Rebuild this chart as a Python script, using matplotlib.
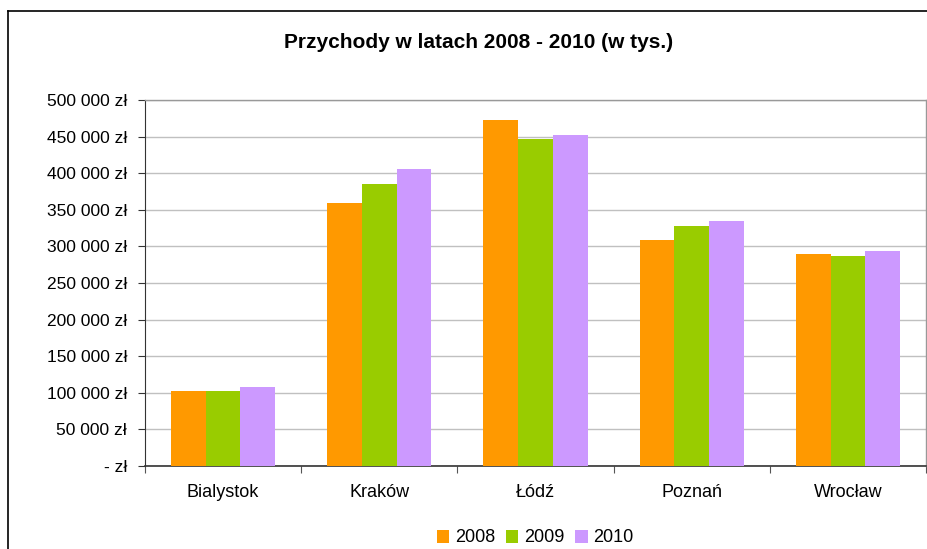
import matplotlib
matplotlib.use("Agg")
import matplotlib.pyplot as plt
from matplotlib.lines import Line2D
from matplotlib.patches import Patch
import numpy as np

plt.rcParams['font.family'] = ['Liberation Sans', 'DejaVu Sans']

categories = ["Bialystok", "Kraków", "Łódź", "Poznań", "Wrocław"]
years = ["2008", "2009", "2010"]
v2008 = [102500, 359300, 472700, 308700, 289600]
v2009 = [102500, 385200, 446700, 327900, 286900]
v2010 = [107900, 405700, 452200, 334700, 293700]
colors = ["#FF9900", "#99CC00", "#CC99FF"]
yticks = list(range(0, 500001, 50000))

W, H = 927, 549
fig = plt.figure(figsize=(W / 100, H / 100), dpi=100)
ax = fig.add_axes([145 / W, (H - 466) / H, 781 / W, 366 / H])

n = len(categories)
centers = np.arange(n) + 0.5
bw = 0.222
for k, (vals, c) in enumerate(zip([v2008, v2009, v2010], colors)):
    ax.bar(centers + (k - 1) * bw, vals, width=bw, color=c, edgecolor='none', zorder=3, label=years[k])

ax.set_xlim(0, n)
ax.set_ylim(0, 500000)
ax.set_yticks(yticks)

def fmt(v):
    if v == 0:
        return "- zł"
    return f"{v:,}".replace(",", " ") + " zł"

ax.set_yticklabels([fmt(v) for v in yticks], fontsize=12.5)
ax.set_xticks(np.arange(n + 1))
ax.set_xticklabels([])
ax.set_xticks(centers, minor=True)
ax.set_xticklabels(categories, minor=True, fontsize=13)
ax.tick_params(axis='x', which='minor', length=0, pad=13)
ax.tick_params(axis='x', which='major', length=5, color='#555555', direction='out')
ax.tick_params(axis='y', length=5, color='#333333', direction='out', pad=8)

ax.grid(axis='y', color='#C0C0C0', linewidth=1, zorder=0)
ax.set_axisbelow(True)
for s in ['top', 'right']:
    ax.spines[s].set_color('#999999')
    ax.spines[s].set_linewidth(1)
ax.spines['left'].set_color('#333333')
ax.spines['bottom'].set_color('#333333')
ax.spines['bottom'].set_linewidth(1.2)

fig.text(479 / W, 1 - 43 / H, "Przychody w latach 2008 - 2010 (w tys.)", ha='center', va='center',
         fontsize=15, fontweight='bold')

handles = [Patch(facecolor=c, edgecolor='none') for c in colors]
fig.legend(handles, years, loc='center', bbox_to_anchor=(535 / W, 1 - 538 / H), ncol=3, frameon=False,
           fontsize=13, handlelength=0.7, handleheight=0.7, handletextpad=0.3, columnspacing=0.6)

fig.add_artist(Line2D([8 / W, 8 / W], [0, 1 - 11 / H], color='black', linewidth=1.2, transform=fig.transFigure))
fig.add_artist(Line2D([8 / W, 1], [1 - 11 / H, 1 - 11 / H], color='black', linewidth=1.2, transform=fig.transFigure))

fig.savefig("out.png", dpi=100)
